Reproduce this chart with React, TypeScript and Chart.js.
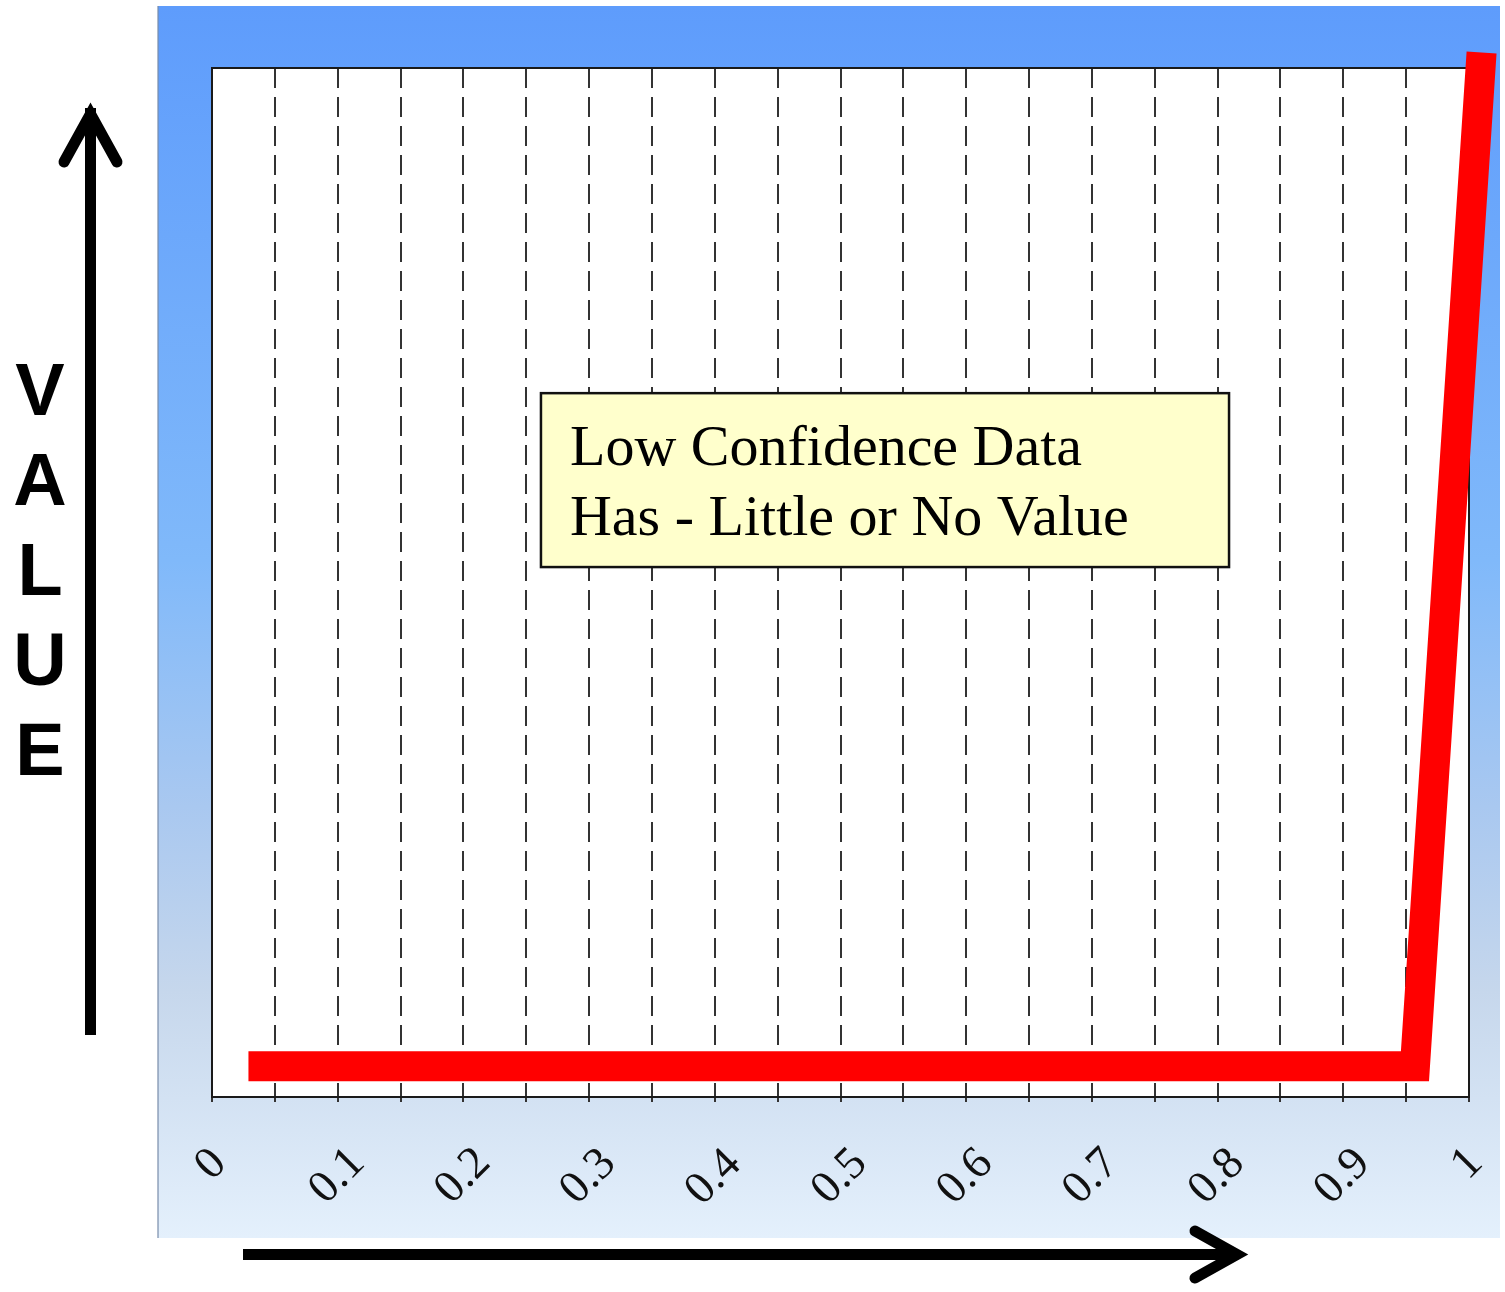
import React, { useEffect, useRef } from "react";
import { Chart, registerables } from "chart.js";

Chart.register(...registerables);

// ---- data ----
const curveX = [0.029, 0.957, 1.01];
const curveY = [0.03, 0.03, 1.015];
const xTickValues = [0, 0.1, 0.2, 0.3, 0.4, 0.5, 0.6, 0.7, 0.8, 0.9, 1];
const xTickLabels = ["0", "0.1", "0.2", "0.3", "0.4", "0.5", "0.6", "0.7", "0.8", "0.9", "1"];
const yAxisLetters = ["V", "A", "L", "U", "E"];
const noteLines = ["Low Confidence Data", "Has - Little or No Value"];

const W = 1505;
const H = 1292;

const decorPlugin = {
  id: "decor",
  beforeDraw(chart: any) {
    const ctx = chart.ctx;
    const ca = chart.chartArea;
    ctx.save();
    // background panel
    const g = ctx.createLinearGradient(0, 6, 0, 1238);
    g.addColorStop(0, "#5e9cfc");
    g.addColorStop(0.45, "#80b9fa");
    g.addColorStop(0.65, "#a9c8f0");
    g.addColorStop(0.8, "#c6d7ec");
    g.addColorStop(1, "#e4f0fc");
    ctx.fillStyle = g;
    ctx.fillRect(158, 6, 1342, 1232);
    ctx.fillStyle = "rgba(120,140,170,0.6)";
    ctx.fillRect(157, 6, 2, 1232);
    // plot area
    ctx.fillStyle = "#ffffff";
    ctx.fillRect(ca.left, ca.top, ca.right - ca.left, ca.bottom - ca.top);
    ctx.restore();
  },
  beforeDatasetsDraw(chart: any) {
    const ctx = chart.ctx;
    const ca = chart.chartArea;
    ctx.save();
    ctx.strokeStyle = "#1a1a1a";
    ctx.lineWidth = 2;
    ctx.strokeRect(ca.left, ca.top, ca.right - ca.left, ca.bottom - ca.top);

    // x tick labels (rotated)
    const xs = chart.scales.x;
    ctx.fillStyle = "#111";
    ctx.font = '46px "Liberation Serif", "Times New Roman", serif';
    ctx.textAlign = "left";
    ctx.textBaseline = "alphabetic";
    const topY = ca.bottom + 47;
    xTickValues.forEach((v, i) => {
      const t = xTickLabels[i];
      const m = ctx.measureText(t);
      const L = m.actualBoundingBoxRight + m.actualBoundingBoxLeft;
      const h = m.actualBoundingBoxAscent + m.actualBoundingBoxDescent;
      const bh = (L + h) / Math.SQRT2;
      const cx = xs.getPixelForValue(v) - 3;
      const cy = topY + bh / 2;
      ctx.save();
      ctx.translate(cx, cy);
      ctx.rotate(-Math.PI / 4);
      const lx = (m.actualBoundingBoxRight - m.actualBoundingBoxLeft) / 2;
      const ly = (m.actualBoundingBoxDescent - m.actualBoundingBoxAscent) / 2;
      ctx.fillText(t, -lx, -ly);
      ctx.restore();
    });
    ctx.restore();
  },
  afterDraw(chart: any) {
    const ctx = chart.ctx;
    const xs = chart.scales.x;
    const ys = chart.scales.y;
    ctx.save();
    // note box
    const bx0 = xs.getPixelForValue(0.2617);
    const bx1 = xs.getPixelForValue(0.8091);
    const by0 = ys.getPixelForValue(0.684);
    const by1 = ys.getPixelForValue(0.515);
    ctx.fillStyle = "#ffffcc";
    ctx.fillRect(bx0, by0, bx1 - bx0, by1 - by0);
    ctx.strokeStyle = "#111";
    ctx.lineWidth = 2.5;
    ctx.strokeRect(bx0, by0, bx1 - bx0, by1 - by0);
    ctx.fillStyle = "#000";
    ctx.font = '58px "Liberation Serif", "Times New Roman", serif';
    ctx.textAlign = "left";
    ctx.textBaseline = "alphabetic";
    noteLines.forEach((line, i) => {
      ctx.fillText(line, bx0 + 29, by0 + 72 + i * 70);
    });

    // vertical VALUE letters
    ctx.font = 'bold 74px "Liberation Sans", Arial, sans-serif';
    ctx.textAlign = "center";
    yAxisLetters.forEach((ch, i) => {
      ctx.fillText(ch, 40, 415 + i * 90);
    });

    // arrows
    ctx.strokeStyle = "#000";
    ctx.lineWidth = 11;
    ctx.lineCap = "butt";
    ctx.beginPath();
    ctx.moveTo(90.5, 1035);
    ctx.lineTo(90.5, 108);
    ctx.stroke();
    ctx.lineCap = "round";
    ctx.lineJoin = "miter";
    ctx.beginPath();
    ctx.moveTo(64, 162);
    ctx.lineTo(90.5, 114);
    ctx.lineTo(117, 162);
    ctx.stroke();

    ctx.lineCap = "butt";
    ctx.beginPath();
    ctx.moveTo(243, 1254.5);
    ctx.lineTo(1232, 1254.5);
    ctx.stroke();
    ctx.lineCap = "round";
    ctx.beginPath();
    ctx.moveTo(1195, 1231);
    ctx.lineTo(1237, 1254.5);
    ctx.lineTo(1195, 1278);
    ctx.stroke();
    ctx.restore();
  },
};

export default function App() {
  const ref = useRef<HTMLCanvasElement | null>(null);
  useEffect(() => {
    document.body.style.margin = "0";
    document.body.style.overflow = "hidden";
    const canvas = ref.current;
    if (!canvas) return;
    const chart = new Chart(canvas, {
      type: "line",
      data: {
        datasets: [
          {
            data: curveX.map((x, i) => ({ x, y: curveY[i] })),
            borderColor: "#ff0000",
            borderWidth: 30,
            borderCapStyle: "butt",
            borderJoinStyle: "miter",
            pointRadius: 0,
            tension: 0,
            fill: false,
            clip: false as any,
          } as any,
        ],
      },
      options: {
        responsive: false,
        animation: false,
        layout: { padding: { left: 212, right: 36, top: 68, bottom: 190 } },
        plugins: { legend: { display: false }, tooltip: { enabled: false } },
        scales: {
          x: {
            type: "linear",
            min: 0,
            max: 1,
            ticks: { display: false, stepSize: 0.05 },
            grid: {
              color: "#333333",
              lineWidth: 2,
              drawTicks: true,
              tickLength: 5,
              tickColor: "#333333",
              tickWidth: 2,
            },
            border: { display: false, dash: [20, 9] },
          },
          y: {
            type: "linear",
            min: 0,
            max: 1,
            display: false,
          },
        },
      },
      plugins: [decorPlugin],
    } as any);
    return () => chart.destroy();
  }, []);
  return (
    <canvas
      ref={ref}
      width={W}
      height={H}
      style={{ display: "block", width: W, height: H }}
    />
  );
}
